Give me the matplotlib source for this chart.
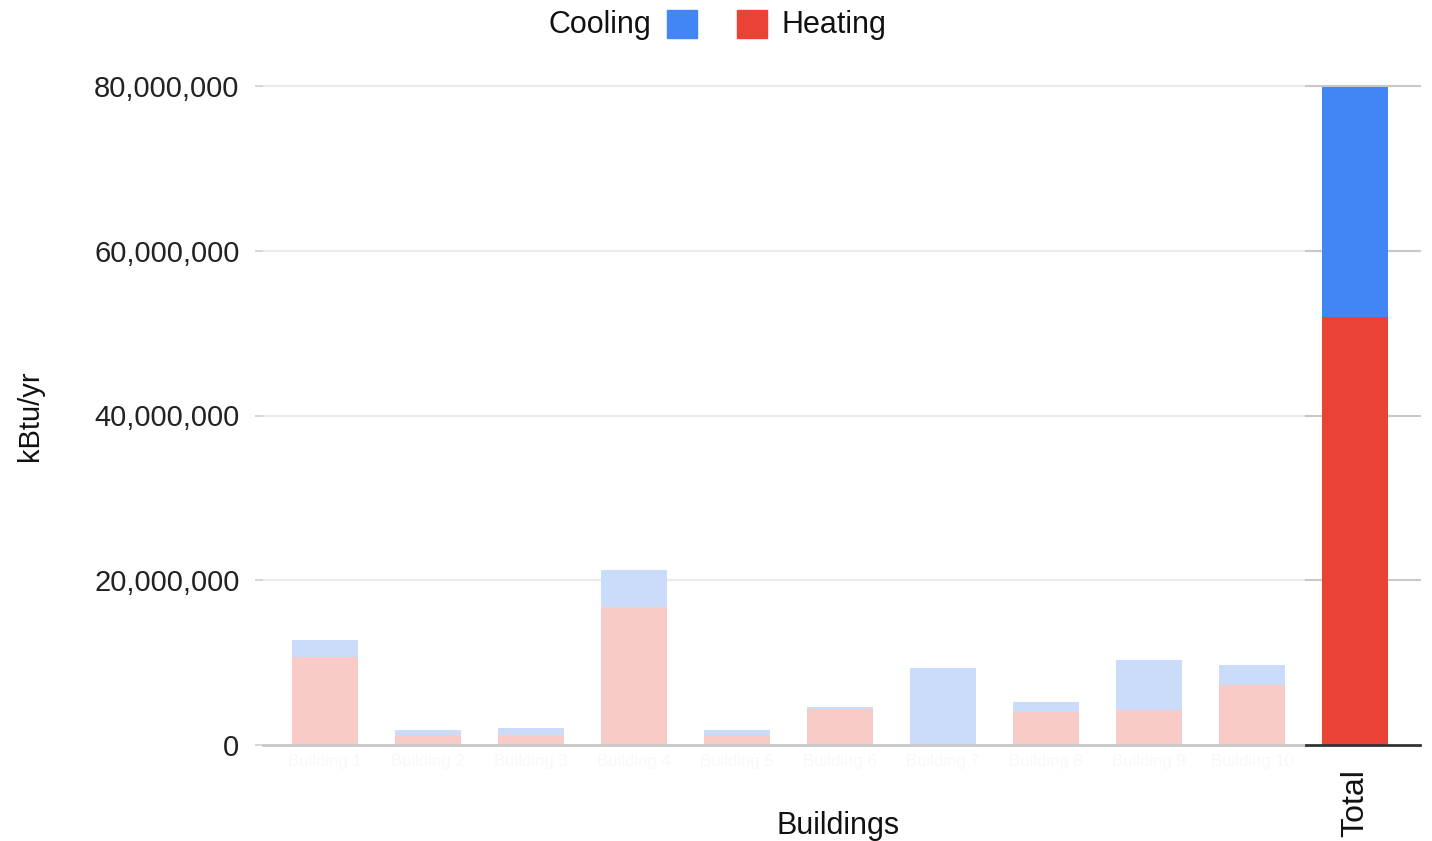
import matplotlib.pyplot as plt
import numpy as np
from matplotlib.patches import Rectangle
from matplotlib.ticker import FuncFormatter

plt.rcParams["font.family"] = ["Liberation Sans", "DejaVu Sans"]

# Values (kBtu/yr)
buildings = [f"Building {i}" for i in range(1, 11)]
heating = [10.7e6, 1.2e6, 1.2e6, 16.75e6, 1.2e6, 4.4e6, 0.0, 4.0e6, 4.3e6, 7.3e6]
cooling = [2.05e6, 0.6e6, 0.9e6, 4.5e6, 0.6e6, 0.2e6, 9.4e6, 1.2e6, 6.0e6, 2.4e6]
total_heating = 52.0e6
total_cooling = 27.9e6
y_ticks = [0, 20e6, 40e6, 60e6, 80e6]

COOL = "#4285f4"
HEAT = "#ea4335"
COOL_FADED = "#cadcf9"
HEAT_FADED = "#f8cbc7"

W, H = 1432, 841
fig = plt.figure(figsize=(W / 100, H / 100), dpi=100)
ax = fig.add_axes([263 / W, 1 - 745 / H, (1420 - 263) / W, (745 - 86) / H])

x = np.arange(len(buildings))
bw = 0.65
ax.bar(x, heating, width=bw, color=HEAT_FADED, zorder=3)
ax.bar(x, cooling, width=bw, bottom=heating, color=COOL_FADED, zorder=3)
xt = len(buildings)
ax.bar(xt, total_heating, width=bw, color=HEAT, zorder=3)
ax.bar(xt, total_cooling, width=bw, bottom=total_heating, color=COOL, zorder=3)

xmin, xmax = (263 - 325) / 103, (1420 - 325) / 103
ax.set_xlim(xmin, xmax)
ax.set_ylim(0, 80e6)

# gridlines: light across, darker in the highlighted Total column
hl = (1306 - 325) / 103
for t in y_ticks[1:]:
    ax.plot([xmin, hl], [t, t], color="#ebebeb", lw=1.5, zorder=1, clip_on=False)
    ax.plot([hl, xmax], [t, t], color="#c8c8c8", lw=1.5, zorder=1, clip_on=False)
ax.plot([xmin, hl], [0, 0], color="#c8c8c8", lw=2, zorder=4, clip_on=False)
ax.plot([hl, xmax], [0, 0], color="#333333", lw=2, zorder=4, clip_on=False)

for s in ax.spines.values():
    s.set_visible(False)

ax.set_yticks(y_ticks)
ax.yaxis.set_major_formatter(FuncFormatter(lambda v, p: f"{int(v):,}"))
ax.tick_params(axis="y", length=6, width=1.2, color="#d0d0d0", pad=11,
               labelsize=21, labelcolor="#222222")

# building names are faded out in the original, Total stays readable
ax.set_xticks([])
for i, name in enumerate(buildings):
    ax.text(i, -1.1e6, name, ha="center", va="top", fontsize=12,
            color="#f8f8f8", zorder=2)
ax.text(xt, -2.9e6, "Total", rotation=90, ha="center", va="top",
        fontsize=23, color="#111111")

fig.text(838 / W, 1 - 826 / H, "Buildings", ha="center", va="center",
         fontsize=22, color="#111111")
fig.text(30 / W, 1 - 416 / H, "kBtu/yr", ha="center", va="center",
         rotation=90, fontsize=21, color="#111111")

# legend
fig.text(651 / W, 1 - 25 / H, "Cooling", ha="right", va="center",
         fontsize=22, color="#111111")
fig.text(782 / W, 1 - 25 / H, "Heating", ha="left", va="center",
         fontsize=22, color="#111111")
fig.patches.append(Rectangle((667 / W, 1 - 38 / H), 30 / W, 28 / H,
                             transform=fig.transFigure, color=COOL))
fig.patches.append(Rectangle((737 / W, 1 - 38 / H), 30 / W, 28 / H,
                             transform=fig.transFigure, color=HEAT))

fig.savefig("out.png", dpi=100)
